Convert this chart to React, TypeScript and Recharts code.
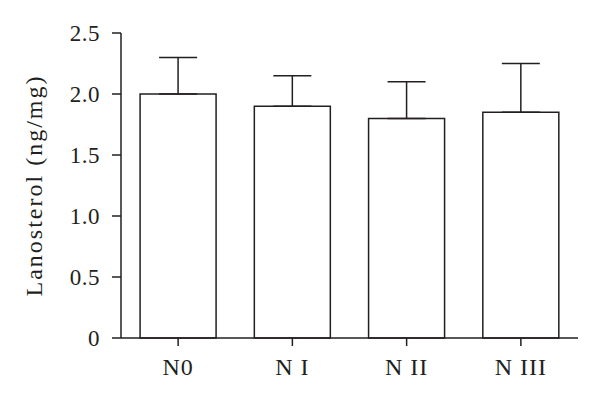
import React from 'react';
import { BarChart, Bar, XAxis, YAxis, ErrorBar } from 'recharts';

const groups = ['N0', 'N I', 'N II', 'N III'];
const lanosterol = [2.0, 1.9, 1.8, 1.85];
const upperError = [0.3, 0.25, 0.3, 0.4];
const yTicks = [0, 0.5, 1.0, 1.5, 2.0, 2.5];

const data = groups.map((name, i) => ({
  name,
  value: lanosterol[i],
  err: [0, upperError[i]],
}));

const ink = '#231f20';
const font = "'Liberation Serif', 'Times New Roman', serif";

const XTick = (props: any) => {
  const { x, y, payload } = props;
  return (
    <text x={x} y={y} dy={23} textAnchor="middle" fill={ink} fontSize={24} letterSpacing={1} fontFamily={font}>
      {payload.value}
    </text>
  );
};

const YTick = (props: any) => {
  const { x, y, payload } = props;
  const v = payload.value as number;
  return (
    <text x={x} y={y} dy={8} textAnchor="end" fill={ink} fontSize={23} letterSpacing={0.5} fontFamily={font}>
      {v === 0 ? '0' : v.toFixed(1)}
    </text>
  );
};

const YLabel = (props: any) => {
  const { viewBox } = props;
  const cx = viewBox.x + 42;
  const cy = viewBox.y + viewBox.height / 2;
  return (
    <text
      x={cx}
      y={cy}
      transform={`rotate(-90 ${cx} ${cy})`}
      textAnchor="middle"
      fill={ink}
      fontSize={24}
      letterSpacing={2}
      fontFamily={font}
    >
      Lanosterol (ng/mg)
    </text>
  );
};

const App = () => (
  <div style={{ position: 'absolute', left: 0, top: 0, background: '#fff' }}>
    <BarChart
      width={600}
      height={402}
      data={data}
      margin={{ top: 33, right: 22, bottom: 24, left: 0 }}
      barCategoryGap="16.7%"
    >
      <XAxis
        dataKey="name"
        height={40}
        tickSize={8}
        tickMargin={6}
        tick={<XTick />}
        axisLine={{ stroke: ink, strokeWidth: 1.5 }}
        tickLine={{ stroke: ink, strokeWidth: 1.5 }}
      />
      <YAxis
        width={121}
        domain={[0, 2.5]}
        ticks={yTicks}
        tickSize={9}
        tickMargin={12}
        tick={<YTick />}
        axisLine={{ stroke: ink, strokeWidth: 1.5 }}
        tickLine={{ stroke: ink, strokeWidth: 1.5 }}
        label={<YLabel />}
      />
      <Bar dataKey="value" fill="#fff" stroke={ink} strokeWidth={1.5} isAnimationActive={false}>
        <ErrorBar dataKey="err" direction="y" width={19} stroke={ink} strokeWidth={1.5} />
      </Bar>
    </BarChart>
  </div>
);

export default App;
